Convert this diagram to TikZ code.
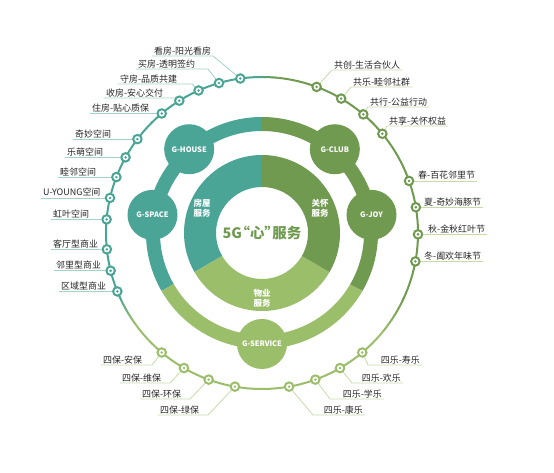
\documentclass[tikz,border=0pt]{standalone}
\usepackage{fontspec}
\setmainfont{Noto Sans CJK SC}

\definecolor{gteal}{HTML}{4AA596}
\definecolor{gdark}{HTML}{6F9A50}
\definecolor{glight}{HTML}{9BBE6B}
\definecolor{lteal}{HTML}{A3D2CA}
\definecolor{lgreen}{HTML}{C6DBAA}
\definecolor{txt}{HTML}{262626}

\tikzset{
  ringdot/.style={circle, draw=#1, fill=white, line width=2bp, minimum size=8.5bp, inner sep=0pt,
    path picture={\fill[#1] (path picture bounding box.center) circle[radius=1.4bp];}},
  lbl/.style={text=txt, font=\fontsize{9}{10}\selectfont, inner xsep=2bp, inner ysep=1bp},
  gnode/.style={circle, fill=#1, minimum size=50bp, inner sep=0pt, text=white, font=\fontsize{7.5}{9}\selectfont\bfseries},
  segtext/.style={text=white, align=center, font=\fontsize{8.5}{10}\selectfont\bfseries},
  tline/.style={draw=lteal, line width=0.8bp},
  gline/.style={draw=lgreen, line width=0.8bp},
  outer/.style={line width=2bp}
}

\begin{document}
\begin{tikzpicture}[x=1bp, y=1bp]
  \useasboundingbox (-262,-240) rectangle (292,233);

  % inner donut
  \fill[gteal] (90:78) arc[start angle=90, end angle=210, radius=78] -- (210:46) arc[start angle=210, end angle=90, radius=46] -- cycle;
  \fill[glight] (210:78) arc[start angle=210, end angle=330, radius=78] -- (330:46) arc[start angle=330, end angle=210, radius=46] -- cycle;
  \fill[gdark] (-30:78) arc[start angle=-30, end angle=90, radius=78] -- (90:46) arc[start angle=90, end angle=-30, radius=46] -- cycle;
  \node[segtext] (fangwu) at (-60,25) {房屋\\服务};
  \node[segtext] (guanhuai) at (58,25) {关怀\\服务};
  \node[segtext] (wuye) at (0,-65) {物业\\服务};
  \node[text=gdark, font=\fontsize{14.5}{16}\selectfont\bfseries] (core) at (0,0) {5G\kern-6.5bp“心”\kern-6.5bp服务};

  % middle ring
  \draw[gteal, line width=14bp] (90:109) arc[start angle=90, end angle=210, radius=109];
  \draw[glight, line width=14bp] (210:109) arc[start angle=210, end angle=330, radius=109];
  \draw[gdark, line width=14bp] (-30:109) arc[start angle=-30, end angle=90, radius=109];
  \node[gnode=gteal] (house) at (131:111) {G-HOUSE};
  \node[gnode=gteal] (space) at (170.6:111) {G-SPACE};
  \node[gnode=gdark] (club) at (49:111) {G-CLUB};
  \node[gnode=gdark] (joy) at (9.4:111) {G-JOY};
  \node[gnode=glight] (service) at (270:111) {G-SERVICE};

  % outer ring
  \draw[gteal, outer] (92:156) arc[start angle=92, end angle=203, radius=156];
  \foreach \i [evaluate=\i as \p using \i*100/12] in {0,...,11}
    \draw[color=glight!\p!gteal, outer] ({203+\i}:156) arc[start angle={203+\i}, end angle={204.2+\i}, radius=156];
  \draw[glight, outer] (215:156) arc[start angle=215, end angle=320, radius=156];
  \foreach \i [evaluate=\i as \p using \i*100/15] in {0,...,14}
    \draw[color=gdark!\p!glight, outer] ({320+\i}:156) arc[start angle={320+\i}, end angle={321.2+\i}, radius=156];
  \draw[gdark, outer] (-25:156) arc[start angle=-25, end angle=84, radius=156];
  \foreach \i [evaluate=\i as \p using \i*100/8] in {0,...,7}
    \draw[color=gteal!\p!gdark, outer] ({84+\i}:156) arc[start angle={84+\i}, end angle={85.2+\i}, radius=156];

  % dots
  \node[ringdot=gteal] (h1) at (98:156) {};
  \node[ringdot=gteal] (h2) at (106:156) {};
  \node[ringdot=gteal] (h3) at (114:156) {};
  \node[ringdot=gteal] (h4) at (122:156) {};
  \node[ringdot=gteal] (h5) at (130:156) {};
  \node[ringdot=gteal] (s1) at (143:156) {};
  \node[ringdot=gteal] (s2) at (151:156) {};
  \node[ringdot=gteal] (s3) at (159:156) {};
  \node[ringdot=gteal] (s4) at (167:156) {};
  \node[ringdot=gteal] (s5) at (175:156) {};
  \node[ringdot=gteal] (s6) at (186:156) {};
  \node[ringdot=gteal] (s7) at (194:156) {};
  \node[ringdot=gteal] (s8) at (202:156) {};
  \node[ringdot=glight] (b1) at (230:156) {};
  \node[ringdot=glight] (b2) at (240:156) {};
  \node[ringdot=glight] (b3) at (250:156) {};
  \node[ringdot=glight] (b4) at (260:156) {};
  \node[ringdot=glight] (l4) at (280:156) {};
  \node[ringdot=glight] (l3) at (290:156) {};
  \node[ringdot=glight] (l2) at (300:156) {};
  \node[ringdot=glight] (l1) at (310:156) {};
  \node[ringdot=gdark] (j1) at (19.5:156) {};
  \node[ringdot=gdark] (j2) at (9.5:156) {};
  \node[ringdot=gdark] (j3) at (-0.5:156) {};
  \node[ringdot=gdark] (j4) at (-10.5:156) {};
  \node[ringdot=gdark] (c1) at (69.5:156) {};
  \node[ringdot=gdark] (c2) at (59.5:156) {};
  \node[ringdot=gdark] (c3) at (49.5:156) {};
  \node[ringdot=gdark] (c4) at (39.5:156) {};

  % labels, house
  \node[lbl, anchor=south west] (th1) at (-110,177) {看房-阳光看房};
  \node[lbl, anchor=south west] (th2) at (-126,164) {买房-透明签约};
  \node[lbl, anchor=south west] (th3) at (-144,149) {守房-品质共建};
  \node[lbl, anchor=south west] (th4) at (-158,135) {收房-安心交付};
  \node[lbl, anchor=south west] (th5) at (-172,120 |- h5) {住房-贴心质保};
  \draw[tline] (th1.south west) -- (-49,177) -- (h1);
  \draw[tline] (th2.south west) -- (-54,164) -- (h2);
  \draw[tline] (th3.south west) -- (-70,149) -- (h3);
  \draw[tline] (th4.south west) -- (-88,135) -- (h4);
  \draw[tline] (th5.south west) -- (h5);

  % labels, space
  \node[lbl, anchor=south west] (ts1) at (-189,0 |- s1) {奇妙空间};
  \node[lbl, anchor=south west] (ts2) at (-197,0 |- s2) {乐萌空间};
  \node[lbl, anchor=south west] (ts3) at (-204,0 |- s3) {睦邻空间};
  \node[lbl, anchor=south west] (ts4) at (-221,0 |- s4) {U-YOUNG空间};
  \node[lbl, anchor=south west] (ts5) at (-211,0 |- s5) {虹叶空间};
  \node[lbl, anchor=south west] (ts6) at (-211,0 |- s6) {客厅型商业};
  \node[lbl, anchor=south west] (ts7) at (-208,0 |- s7) {邻里型商业};
  \node[lbl, anchor=south west] (ts8) at (-203,0 |- s8) {区域型商业};
  \draw[tline] (ts1.south west) -- (s1);
  \draw[tline] (ts2.south west) -- (s2);
  \draw[tline] (ts3.south west) -- (s3);
  \draw[tline] (ts4.south west) -- (s4);
  \draw[tline] (ts5.south west) -- (s5);
  \draw[tline] (ts6.south west) -- (s6);
  \draw[tline] (ts7.south west) -- (s7);
  \draw[tline] (ts8.south west) -- (s8);

  % labels, club
  \node[lbl, anchor=south west] (tc1) at (70,163) {共创-生活合伙人};
  \node[lbl, anchor=south west] (tc2) at (89,146) {共乐-睦邻社群};
  \node[lbl, anchor=south west] (tc3) at (106,126) {共行-公益行动};
  \node[lbl, anchor=south west] (tc4) at (125,107) {共享-关怀权益};
  \draw[gline] (c1) -- (tc1.south west) -- (tc1.south east);
  \draw[gline] (c2) -- (tc2.south west) -- (tc2.south east);
  \draw[gline] (c3) -- (tc3.south west) -- (tc3.south east);
  \draw[gline] (c4) -- (tc4.south west) -- (tc4.south east);

  % labels, joy
  \node[lbl, anchor=south west] (tj1) at (154,0 |- j1) {春-百花邻里节};
  \node[lbl, anchor=south west] (tj2) at (160,0 |- j2) {夏-奇妙海豚节};
  \node[lbl, anchor=south west] (tj3) at (164,0 |- j3) {秋-金秋红叶节};
  \node[lbl, anchor=south west] (tj4) at (160,0 |- j4) {冬-阖欢年味节};
  \draw[gline] (j1) -- (tj1.south east);
  \draw[gline] (j2) -- (tj2.south east);
  \draw[gline] (j3) -- (tj3.south east);
  \draw[gline] (j4) -- (tj4.south east);

  % labels, service
  \node[lbl, anchor=south west] (tb1) at (-161,-132) {四保-安保};
  \node[lbl, anchor=south west] (tb2) at (-142,-150) {四保-维保};
  \node[lbl, anchor=south west] (tb3) at (-122,-166) {四保-环保};
  \node[lbl, anchor=south west] (tb4) at (-104,-182) {四保-绿保};
  \draw[gline] (tb1.south west) -- (-110,-132) -- (b1);
  \draw[gline] (tb2.south west) -- (-92,-150) -- (b2);
  \draw[gline] (tb3.south west) -- (-72,-166) -- (b3);
  \draw[gline] (tb4.south west) -- (-54,-182) -- (b4);
  \node[lbl, anchor=south east] (tl1) at (160,-132) {四乐-寿乐};
  \node[lbl, anchor=south east] (tl2) at (141,-150) {四乐-欢乐};
  \node[lbl, anchor=south east] (tl3) at (122,-166) {四乐-学乐};
  \node[lbl, anchor=south east] (tl4) at (103,-182) {四乐-康乐};
  \draw[gline] (l1) -- (106,-132) -- (tl1.south east);
  \draw[gline] (l2) -- (90,-150) -- (tl2.south east);
  \draw[gline] (l3) -- (68,-166) -- (tl3.south east);
  \draw[gline] (l4) -- (51,-182) -- (tl4.south east);
\end{tikzpicture}
\end{document}
